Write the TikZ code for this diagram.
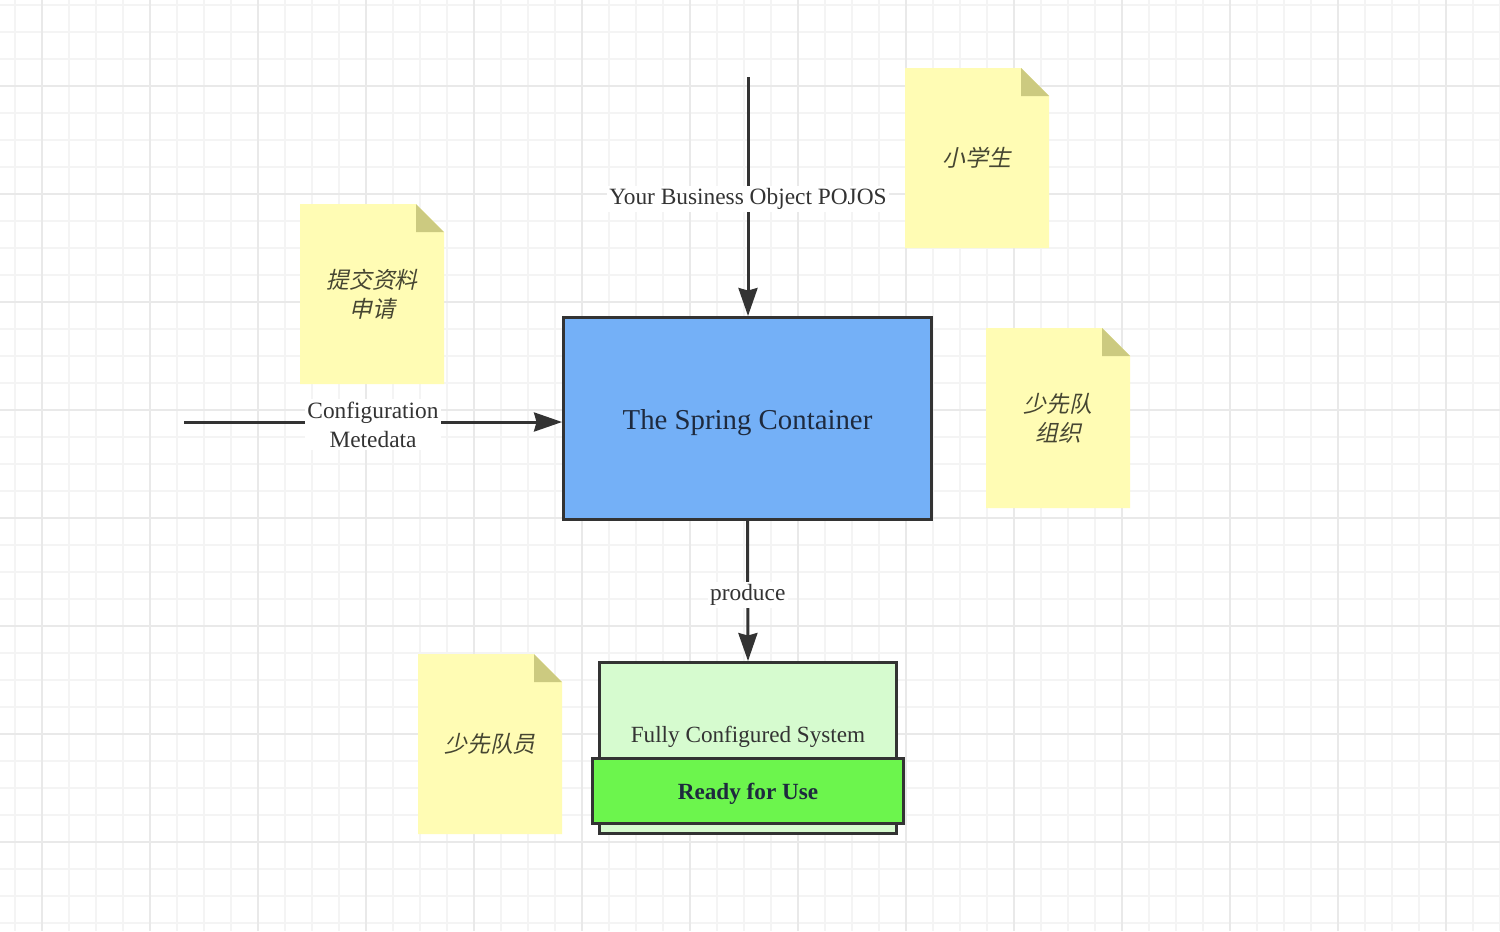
\documentclass[tikz,border=0pt]{standalone}
\usepackage{fontspec}
\setmainfont{Liberation Serif}
\newfontfamily\cjk[FakeSlant=0.22]{Noto Sans CJK SC}
\usetikzlibrary{arrows.meta}

\definecolor{linec}{RGB}{51,51,51}
\definecolor{textc}{RGB}{51,51,51}
\definecolor{springblue}{RGB}{116,176,247}
\definecolor{springtext}{RGB}{30,42,62}
\definecolor{palegreen}{RGB}{214,251,207}
\definecolor{brightgreen}{RGB}{108,245,77}
\definecolor{notefill}{RGB}{255,252,180}
\definecolor{notefold}{RGB}{204,202,128}
\definecolor{notetextc}{RGB}{70,70,50}
\definecolor{gridminor}{RGB}{244,244,244}
\definecolor{gridmajor}{RGB}{233,233,233}

% sticky note: name, centre x, centre y, text
\newcommand{\stickynote}[4]{%
	\fill[notefill] ({#2-72},{#3-90}) -- ({#2+44},{#3-90}) -- ({#2+72},{#3-62}) -- ({#2+72},{#3+90}) -- ({#2-72},{#3+90}) -- cycle;
	\fill[notefold] ({#2+44},{#3-90}) -- ({#2+44},{#3-62}) -- ({#2+72},{#3-62}) -- cycle;
	\node[notetext] (#1) at (#2,#3) {#4};}

\begin{document}
\begin{tikzpicture}[x=0.02cm,y=-0.02cm]
	\tikzstyle{arrow}=[draw=linec,line width=0.06cm,-{Stealth[length=0.56cm,width=0.38cm,inset=0.05cm]}]
	\tikzstyle{lbl}=[fill=white,inner sep=1.5pt,yshift=-0.05cm,text=textc,align=center,font=\fontsize{13.3}{16.5}\selectfont]
	\tikzstyle{notetext}=[text=notetextc,align=center,font=\cjk\fontsize{13}{16.5}\selectfont]
	\tikzstyle{box}=[draw=linec,line width=0.06cm,shape=rectangle,inner sep=0pt]

	\useasboundingbox (0,0) rectangle (1500,931);
	\fill[white] (0,0) rectangle (1500,931);

	% grid
	\foreach \x in {15,42,...,1500} \draw[gridminor,line width=0.03cm] (\x,0) -- (\x,931);
	\foreach \y in {5,32,...,931} \draw[gridminor,line width=0.03cm] (0,\y) -- (1500,\y);
	\foreach \x in {42,150,...,1500} \draw[gridmajor,line width=0.04cm] (\x,0) -- (\x,931);
	\foreach \y in {86,194,...,931} \draw[gridmajor,line width=0.04cm] (0,\y) -- (1500,\y);

	% notes
	\stickynote{noteApply}{372}{294}{提交资料\\申请}
	\stickynote{noteStudent}{977}{158}{小学生}
	\stickynote{noteOrg}{1058}{418}{少先队\\组织}
	\stickynote{noteMember}{490}{744}{少先队员}

	% boxes
	\node[box,fill=springblue,minimum width=7.36cm,minimum height=4.04cm,text=springtext,text height=16pt,text depth=3.6pt,font=\fontsize{16.4}{20}\selectfont](container) at (747.5,418.5){The Spring Container};
	\node[box,fill=palegreen,minimum width=5.94cm,minimum height=3.42cm](fullSys) at (748,748){};
	\node[text=textc,font=\fontsize{13.2}{16.5}\selectfont](fullSysText) at (748,737){Fully Configured System};
	\node[box,fill=brightgreen,minimum width=6.22cm,minimum height=1.3cm,text=springtext,text height=12.4pt,text depth=2.8pt,font=\bfseries\fontsize{13.2}{16.5}\selectfont](ready) at (748,791){Ready for Use};

	% connectors
	\coordinate (pojoIn) at (748,77);
	\coordinate (cfgIn) at (184,422);

	\draw[arrow] (pojoIn) -- (pojoIn |- container.north) node[lbl,midway]{Your Business Object POJOS};
	\draw[arrow] (cfgIn) -- (cfgIn -| container.west) node[lbl,midway]{Configuration\\Metedata};
	\draw[arrow] (container.south) -- (fullSys.north) node[lbl,pos=0.51]{produce};

\end{tikzpicture}
\end{document}
